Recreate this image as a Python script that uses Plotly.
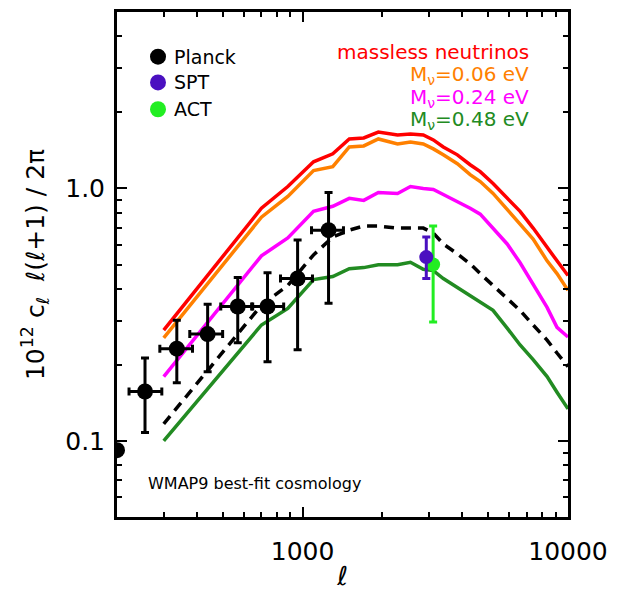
import plotly.graph_objects as go
import numpy as np

# ---------------- data ----------------
ell_model = [300, 700, 880, 1100, 1300, 1500, 1700, 1930, 2280, 2550, 2850, 3110,
             3390, 3830, 4280, 4670, 5220, 5900, 6600, 7390, 8340, 9090, 10000]

cl_massless = [0.275, 0.835, 1.018, 1.276, 1.372, 1.571, 1.585, 1.673, 1.628, 1.643, 1.628, 1.557,
               1.461, 1.359, 1.242, 1.166, 1.046, 0.914, 0.812, 0.697, 0.582, 0.517, 0.452]
cl_m006 = [0.256, 0.770, 0.930, 1.177, 1.220, 1.461, 1.474, 1.571, 1.501, 1.529, 1.501, 1.435,
           1.359, 1.253, 1.135, 1.065, 0.956, 0.827, 0.729, 0.631, 0.517, 0.460, 0.395]
cl_m024 = [0.180, 0.541, 0.637, 0.812, 0.850, 0.914, 0.897, 0.964, 0.956, 1.018, 1.000, 0.991,
           0.947, 0.889, 0.835, 0.791, 0.697, 0.603, 0.508, 0.420, 0.338, 0.282, 0.258]
cl_m048 = [0.100, 0.288, 0.335, 0.436, 0.448, 0.481, 0.486, 0.499, 0.499, 0.510, 0.479, 0.473,
           0.440, 0.406, 0.377, 0.354, 0.329, 0.280, 0.240, 0.210, 0.180, 0.156, 0.134]
cl_wmap9 = [0.117, 0.345, 0.413, 0.546, 0.642, 0.684, 0.710, 0.710, 0.697, 0.697, 0.697, 0.666,
            0.603, 0.551, 0.503, 0.460, 0.413, 0.367, 0.329, 0.288, 0.251, 0.223, 0.197]

planck_ell = [200, 255, 336, 439, 570, 738, 958, 1253]
planck_ell_lo = [200, 222, 290, 376, 492, 643, 826, 1081]
planck_ell_hi = [200, 295, 385, 500, 649, 849, 1090, 1426]
planck_cl = [0.092, 0.157, 0.232, 0.265, 0.341, 0.341, 0.440, 0.684]
planck_cl_lo = [0.092, 0.108, 0.170, 0.188, 0.245, 0.206, 0.230, 0.351]
planck_cl_hi = [0.092, 0.213, 0.301, 0.348, 0.444, 0.464, 0.625, 0.964]

spt_ell = [2925]
spt_cl = [0.535]
spt_cl_lo = [0.440]
spt_cl_hi = [0.642]

act_ell = [3104]
act_cl = [0.500]
act_cl_lo = [0.296]
act_cl_hi = [0.710]

model_names = ["massless neutrinos", "M<sub>ν</sub>=0.06 eV",
               "M<sub>ν</sub>=0.24 eV", "M<sub>ν</sub>=0.48 eV"]
model_colors = ["#ff0000", "#ff8000", "#ff00ff", "#228b22"]
legend_names = ["Planck", "SPT", "ACT"]
legend_colors = ["#000000", "#4a10c0", "#22ee22"]

FONT = "DejaVu Sans, Liberation Sans, sans-serif"

fig = go.Figure()

for vals, col in zip([cl_massless, cl_m006, cl_m024, cl_m048], model_colors):
    fig.add_trace(go.Scatter(x=ell_model, y=vals, mode="lines",
                             line=dict(color=col, width=3.5), showlegend=False,
                             hoverinfo="skip"))
fig.add_trace(go.Scatter(x=ell_model, y=cl_wmap9, mode="lines",
                         line=dict(color="black", width=3.5, dash="10px,7px"),
                         showlegend=False, hoverinfo="skip"))

def errs(v, lo, hi):
    v = np.array(v, float)
    return list(np.array(hi) - v), list(v - np.array(lo))

py_up, py_dn = errs(planck_cl, planck_cl_lo, planck_cl_hi)
px_up, px_dn = errs(planck_ell, planck_ell_lo, planck_ell_hi)
fig.add_trace(go.Scatter(
    x=planck_ell, y=planck_cl, mode="markers",
    marker=dict(color="black", size=16),
    error_y=dict(type="data", array=py_up, arrayminus=py_dn, color="black", thickness=3, width=4),
    error_x=dict(type="data", array=px_up, arrayminus=px_dn, color="black", thickness=3, width=4),
    showlegend=False, cliponaxis=True))

a_up, a_dn = errs(act_cl, act_cl_lo, act_cl_hi)
fig.add_trace(go.Scatter(
    x=act_ell, y=act_cl, mode="markers",
    marker=dict(color=legend_colors[2], size=14),
    error_y=dict(type="data", array=a_up, arrayminus=a_dn, color=legend_colors[2], thickness=3, width=4),
    showlegend=False))
s_up, s_dn = errs(spt_cl, spt_cl_lo, spt_cl_hi)
fig.add_trace(go.Scatter(
    x=spt_ell, y=spt_cl, mode="markers",
    marker=dict(color=legend_colors[1], size=14),
    error_y=dict(type="data", array=s_up, arrayminus=s_dn, color=legend_colors[1], thickness=3, width=4),
    showlegend=False))

# ---------------- layout ----------------
L, R, T, B = 117, 568, 9, 518
W, H = 624, 595

def xp(px):
    return (px - L) / (R - L)

def yp(py):
    return (B - py) / (B - T)

shapes = []
annotations = []
for i, (name, col) in enumerate(zip(legend_names, legend_colors)):
    cy = [54, 80, 107][i]
    shapes.append(dict(type="circle", xref="paper", yref="paper",
                       xsizemode="pixel", ysizemode="pixel",
                       xanchor=xp(158), yanchor=yp(cy),
                       x0=-8, x1=8, y0=-8, y1=8,
                       fillcolor=col, line=dict(width=0)))
    annotations.append(dict(text=name, xref="paper", yref="paper", x=xp(172), y=yp(cy),
                            xanchor="left", yanchor="middle", showarrow=False,
                            font=dict(family=FONT, size=19, color="black")))

for i, (name, col) in enumerate(zip(model_names, model_colors)):
    cy = [49, 72, 96, 118][i]
    annotations.append(dict(text=name, xref="paper", yref="paper", x=xp(531), y=yp(cy),
                            xanchor="right", yanchor="middle", showarrow=False,
                            font=dict(family=FONT, size=20, color=col)))

annotations.append(dict(text="WMAP9 best-fit cosmology", xref="paper", yref="paper",
                        x=xp(146), y=yp(484), xanchor="left", yanchor="middle",
                        showarrow=False, font=dict(family=FONT, size=16, color="black")))

x_minor = [300, 400, 500, 600, 700, 800, 900, 2000, 3000, 4000, 5000, 6000, 7000, 8000, 9000]
y_minor = [0.06, 0.07, 0.08, 0.09, 0.2, 0.3, 0.4, 0.5, 0.6, 0.7, 0.8, 0.9, 2, 3, 4]

NB = "\u00a0"
ytitle = "10<sup>12</sup>" + NB + "c<sub>ℓ</sub>" + NB + NB + "ℓ(ℓ+1)" + NB + "/" + NB + "2π"

fig.update_layout(
    width=W, height=H,
    margin=dict(l=L, r=W - R, t=T, b=H - B, pad=0),
    paper_bgcolor="white", plot_bgcolor="white",
    font=dict(family=FONT, color="black"),
    shapes=shapes, annotations=annotations,
    xaxis=dict(type="log", range=[np.log10(200), 4],
               tickmode="array", tickvals=[1000, 10000], ticktext=["1000", "10000"],
               ticks="inside", ticklen=10, tickwidth=2, tickcolor="black",
               minor=dict(tickmode="array", tickvals=x_minor, ticks="inside",
                          ticklen=5, tickwidth=2, tickcolor="black", showgrid=False),
               showline=True, linewidth=3, linecolor="black", mirror="ticks",
               showgrid=False, zeroline=False,
               tickfont=dict(family=FONT, size=25),
               ticklabelstandoff=10,
               title=dict(text="<i>ℓ</i>", font=dict(family=FONT, size=26), standoff=2)),
    yaxis=dict(type="log", range=[np.log10(0.05), np.log10(5)],
               tickmode="array", tickvals=[0.1, 1.0], ticktext=["0.1", "1.0"],
               ticks="inside", ticklen=10, tickwidth=2, tickcolor="black",
               minor=dict(tickmode="array", tickvals=y_minor, ticks="inside",
                          ticklen=5, tickwidth=2, tickcolor="black", showgrid=False),
               showline=True, linewidth=3, linecolor="black", mirror="ticks",
               showgrid=False, zeroline=False,
               tickfont=dict(family=FONT, size=25),
               ticklabelstandoff=4,
               title=dict(text=ytitle, font=dict(family=FONT, size=25), standoff=14)),
)

fig.write_html("out.html", config={"displayModeBar": False},
               post_script="document.body.style.margin='0px';")
